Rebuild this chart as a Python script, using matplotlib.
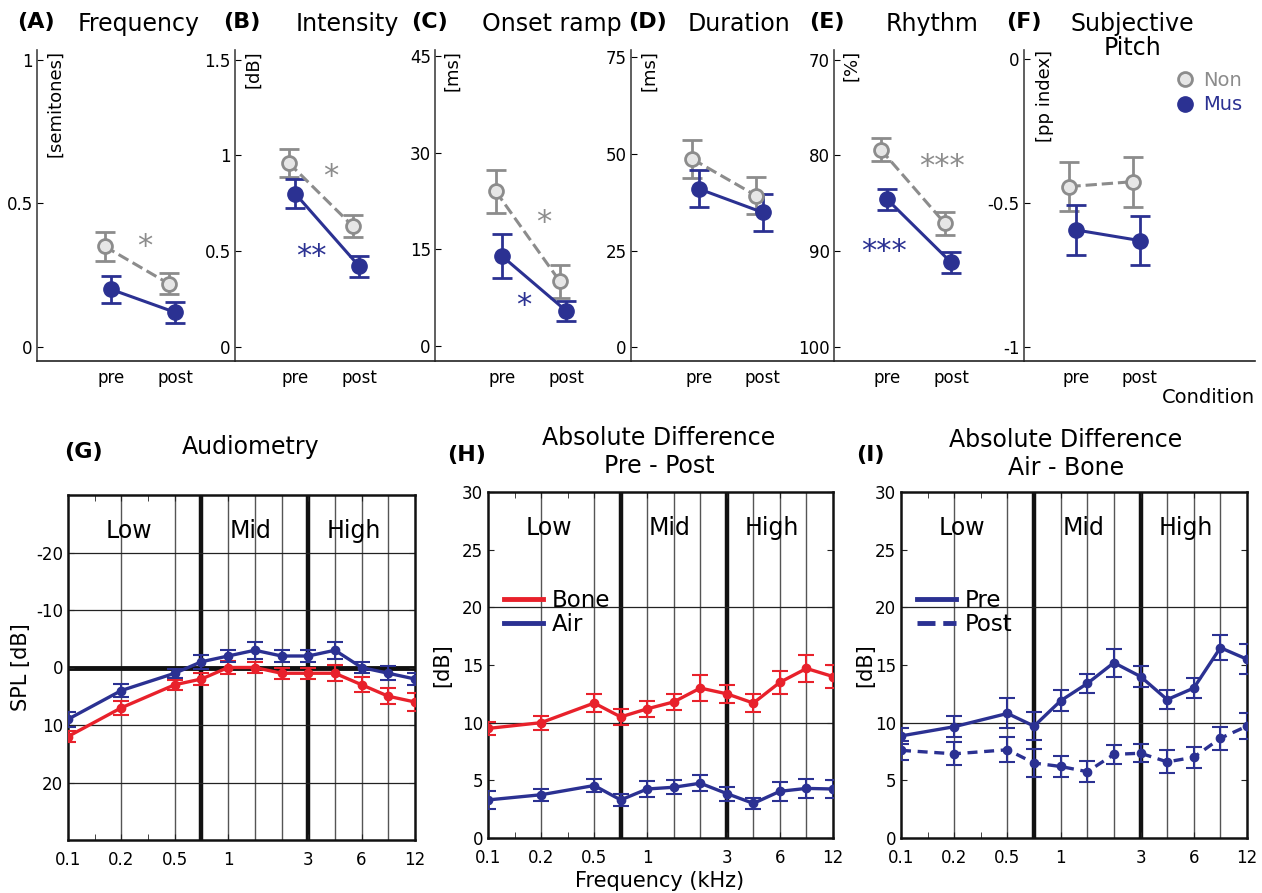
import numpy as np
import matplotlib.pyplot as plt
from matplotlib.lines import Line2D

BLUE = '#2b3192'
RED = '#e8212b'
GREY = '#8c8c8c'
LIGHT = '#e6e6e6'

# ---------------- top row data (pre, post) ----------------
conditions = ['pre', 'post']
top_letters = ['(A)', '(B)', '(C)', '(D)', '(E)', '(F)']
top_titles = ['Frequency', 'Intensity', 'Onset ramp', 'Duration', 'Rhythm', 'Subjective\nPitch']
top_units = ['[semitones]', '[dB]', '[ms]', '[ms]', '[%]', '[pp index]']

non_mean = [[0.35, 0.22], [0.96, 0.63], [24.0, 10.0], [48.7, 39.2], [79.4, 87.1], [-0.443, -0.426]]
non_err = [[0.05, 0.036], [0.075, 0.057], [3.4, 2.6], [4.9, 4.8], [1.2, 1.2], [0.086, 0.087]]
mus_mean = [[0.20, 0.12], [0.80, 0.42], [13.9, 5.4], [41.0, 34.9], [84.6, 91.2], [-0.594, -0.631]]
mus_err = [[0.048, 0.036], [0.074, 0.054], [3.4, 1.6], [4.8, 4.9], [1.1, 1.1], [0.087, 0.086]]

top_yticks = [[0, 0.5, 1], [0, 0.5, 1, 1.5], [0, 15, 30, 45], [0, 25, 50, 75], [70, 80, 90, 100], [-1, -0.5, 0]]
top_ylim = [(-0.05, 1.035), (-0.075, 1.55), (-2.4, 46.0), (-3.5, 76.9), (101.5, 69.0), (-1.05, 0.032)]

# significance stars: (panel, text, colour, x, y)
stars = [(0, '*', GREY, 1.53, 0.35),
         (1, '*', GREY, 1.55, 0.89), (1, '**', BLUE, 1.25, 0.47),
         (2, '*', GREY, 1.65, 19.1), (2, '*', BLUE, 1.33, 6.3),
         (4, '***', GREY, 1.85, 81.2), (4, '***', BLUE, 0.95, 90.1)]

# ---------------- bottom row data ----------------
freq_khz = ['0.1', '0.2', '0.5', '0.75', '1', '1.5', '2', '3', '4', '6', '8', '12']
slot = [0, 2, 4, 5, 6, 7, 8, 9, 10, 11, 12, 13]   # place of each test frequency on the axis
freq_ticklabels = ['0.1', '0.2', '0.5', '1', '3', '6', '12']

audio_air = [9, 4, 1, -1, -2, -3, -2, -2, -3, 0, 1, 2]
audio_air_err = [1.3, 1.1, 0.8, 1.2, 1.0, 1.5, 1.0, 1.0, 1.5, 1.0, 1.2, 1.1]
audio_bone = [12, 7, 3, 2, 0, 0, 1, 1, 1, 3, 5, 6]
audio_bone_err = [1.0, 1.2, 0.9, 1.0, 1.2, 1.0, 1.0, 1.0, 1.4, 1.3, 1.4, 1.6]

prepost_bone = [9.5, 10.0, 11.7, 10.5, 11.2, 11.8, 13.0, 12.5, 11.7, 13.5, 14.7, 14.0]
prepost_bone_err = [0.6, 0.6, 0.8, 0.7, 0.7, 0.7, 1.1, 0.8, 0.8, 1.0, 1.2, 1.0]
prepost_air = [3.3, 3.75, 4.55, 3.3, 4.25, 4.4, 4.75, 3.85, 3.0, 4.05, 4.3, 4.25]
prepost_air_err = [0.75, 0.5, 0.6, 0.5, 0.7, 0.6, 0.7, 0.6, 0.5, 0.8, 0.8, 0.8]

airbone_pre = [8.85, 9.65, 10.8, 9.7, 11.9, 13.4, 15.2, 14.0, 12.0, 13.0, 16.5, 15.5]
airbone_pre_err = [0.7, 0.9, 1.3, 1.2, 0.9, 0.8, 1.2, 0.9, 0.8, 0.9, 1.1, 1.3]
airbone_post = [7.6, 7.3, 7.65, 6.5, 6.2, 5.75, 7.25, 7.35, 6.6, 7.0, 8.65, 9.7]
airbone_post_err = [0.8, 1.0, 1.1, 1.2, 0.9, 0.9, 0.8, 0.8, 1.0, 0.9, 1.0, 1.1]

plt.rcParams['font.family'] = 'DejaVu Sans'
plt.rcParams['axes.unicode_minus'] = False

W, H = 1262, 893
fig = plt.figure(figsize=(W / 100, H / 100), dpi=100)


def add_axes_px(left, top, right, bottom):
    return fig.add_axes([left / W, 1 - bottom / H, (right - left) / W, (bottom - top) / H])


# ---------------- top row ----------------
top_left = [37, 235, 435, 631, 834, 1024]
top_right = [235, 435, 631, 834, 1024, 1255]
xlim_left = [-0.156, 0.06, -0.05, -0.06, 0.17, 0.19]
title_x = [139, 347, 552, 739, 932, 1132]
letter_x = [36, 242, 430, 647, 827, 1024]
x_cond = np.array([1.0, 2.0])

top_axes = []
for i in range(6):
    ax = add_axes_px(top_left[i], 50, top_right[i], 361)
    top_axes.append(ax)
    width_units = (top_right[i] - top_left[i]) / 64
    ax.set_xlim(xlim_left[i], xlim_left[i] + width_units)
    ax.set_ylim(*top_ylim[i])
    for s in ['top', 'right']:
        ax.spines[s].set_visible(False)
    ax.spines['left'].set_color('#444444')
    ax.spines['bottom'].set_color('#222222')
    ax.spines['left'].set_linewidth(1.2)
    ax.spines['bottom'].set_linewidth(1.2)
    ax.set_yticks(top_yticks[i])
    ax.set_yticklabels([f'{v:g}' for v in top_yticks[i]])
    ax.set_xticks(x_cond)
    ax.set_xticklabels(conditions)
    ax.tick_params(axis='y', direction='in', length=4, labelsize=12, pad=3)
    ax.tick_params(axis='x', length=0, labelsize=12, pad=6)

    ax.errorbar(x_cond - 0.1, non_mean[i], yerr=non_err[i], color=GREY, ls='--', lw=2.2,
                marker='o', ms=10, mfc=LIGHT, mec=GREY, mew=2, capsize=7, capthick=2, elinewidth=2)
    ax.errorbar(x_cond, mus_mean[i], yerr=mus_err[i], color=BLUE, ls='-', lw=2.2,
                marker='o', ms=11, mfc=BLUE, mec=BLUE, capsize=7, capthick=2, elinewidth=2)

    ax.text(0.09, 1.0, top_units[i], transform=ax.transAxes, rotation=90,
            ha='center', va='top', fontsize=13)
    fig.text(title_x[i] / W, 1 - 12 / H, top_titles[i], ha='center', va='top',
             fontsize=17, linespacing=1.0)
    fig.text(letter_x[i] / W, 1 - 12 / H, top_letters[i], ha='center', va='top',
             fontsize=16, fontweight='bold')

for panel, txt, col, x, y in stars:
    top_axes[panel].text(x, y, txt, color=col, fontsize=22, ha='center', va='center')

leg = top_axes[5].legend(
    handles=[Line2D([], [], ls='none', marker='o', ms=10, mfc=LIGHT, mec=GREY, mew=2),
             Line2D([], [], ls='none', marker='o', ms=11, mfc=BLUE, mec=BLUE)],
    labels=['Non', 'Mus'], loc='upper right', bbox_to_anchor=(1.02, 0.99), frameon=False,
    fontsize=14, handletextpad=0.3, labelspacing=0.3, handlelength=1.2,
    labelcolor=[GREY, BLUE])

fig.text(1208 / W, 1 - 398 / H, 'Condition', ha='center', va='center', fontsize=14)

# ---------------- bottom row ----------------
bottom_specs = [
    dict(box=(68, 495, 415, 840), letter='(G)', letter_xy=(83, 452), title='Audiometry',
         title_xy=(251, 447), ylabel='SPL [dB]', ylabel_x=-0.107,
         series=[(audio_bone, audio_bone_err, RED, '-', 'Bone'),
                 (audio_air, audio_air_err, BLUE, '-', 'Air')],
         legend=False, ylim=(30, -30), yticks=[-20, -10, 0, 10, 20], hlines=[-20, -10, 10, 20],
         thick_h=0),
    dict(box=(488, 492, 833, 838), letter='(H)', letter_xy=(467, 455),
         title='Absolute Difference\nPre - Post', title_xy=(659, 452), ylabel='[dB]',
         ylabel_x=-0.104,
         series=[(prepost_bone, prepost_bone_err, RED, '-', 'Bone'),
                 (prepost_air, prepost_air_err, BLUE, '-', 'Air')],
         legend=True, ylim=(0, 30), yticks=[0, 5, 10, 15, 20, 25, 30], hlines=[10, 20],
         thick_h=None),
    dict(box=(901, 492, 1247, 838), letter='(I)', letter_xy=(870, 455),
         title='Absolute Difference\nAir - Bone', title_xy=(1066, 454), ylabel='[dB]',
         ylabel_x=-0.075,
         series=[(airbone_pre, airbone_pre_err, BLUE, '-', 'Pre'),
                 (airbone_post, airbone_post_err, BLUE, '--', 'Post')],
         legend=True, ylim=(0, 30), yticks=[0, 5, 10, 15, 20, 25, 30], hlines=[10, 20],
         thick_h=None),
]

tick_slots = [slot[freq_khz.index(f)] for f in freq_ticklabels]

for spec in bottom_specs:
    ax = add_axes_px(*spec['box'])
    ax.set_xlim(0, 13)
    ax.set_ylim(*spec['ylim'])
    ax.set_yticks(spec['yticks'])
    ax.set_xticks(tick_slots)
    ax.set_xticklabels(freq_ticklabels)
    ax.set_xticks([1, 3], minor=True)
    ax.tick_params(which='both', direction='in', top=True, right=True, length=4,
                   labelsize=12, color='#222222')
    ax.tick_params(axis='x', pad=8)
    for s in ax.spines.values():
        s.set_linewidth(1.8)
        s.set_color('#111111')

    for s_ in slot[1:]:
        if s_ in (5, 9):
            ax.axvline(s_, color='#111111', lw=3.2, zorder=1)
        elif s_ < 13:
            ax.axvline(s_, color='#555555', lw=1.0, zorder=1)
    for h in spec['hlines']:
        ax.axhline(h, color='#222222', lw=0.9, zorder=1)
    if spec['thick_h'] is not None:
        ax.axhline(spec['thick_h'], color='#111111', lw=3.5, zorder=1)

    handles = []
    for vals, errs, col, ls, lab in spec['series']:
        ax.errorbar(slot, vals, yerr=errs, color=col, ls=ls, lw=2.4, marker='o', ms=6,
                    capsize=5.5, capthick=1.5, elinewidth=1.5, zorder=3,
                    dashes=(3, 2) if ls == '--' else (None, None))
        handles.append(Line2D([], [], color=col, ls=ls, lw=3.5))

    if spec['legend']:
        ax.legend(handles, [s[4] for s in spec['series']], loc='upper left',
                  bbox_to_anchor=(0.0, 0.765), frameon=False, fontsize=16.5,
                  handlelength=1.7, handletextpad=0.4, labelspacing=0.05, borderaxespad=0.3)

    for txt, xs in [('Low', 2.3), ('Mid', 6.85), ('High', 10.7)]:
        ax.text(xs, 0.895, txt, transform=ax.get_xaxis_transform(), ha='center', va='center',
                fontsize=17)

    ax.set_ylabel(spec['ylabel'], fontsize=15)
    ax.yaxis.set_label_coords(spec['ylabel_x'], 0.5)
    fig.text(spec['letter_xy'][0] / W, 1 - spec['letter_xy'][1] / H, spec['letter'],
             ha='center', va='center', fontsize=16, fontweight='bold')
    fig.text(spec['title_xy'][0] / W, 1 - spec['title_xy'][1] / H, spec['title'],
             ha='center', va='center', fontsize=17, linespacing=1.25)

fig.text(660 / W, 1 - 881 / H, 'Frequency (kHz)', ha='center', va='center', fontsize=15)

fig.savefig('out.png', dpi=100)
